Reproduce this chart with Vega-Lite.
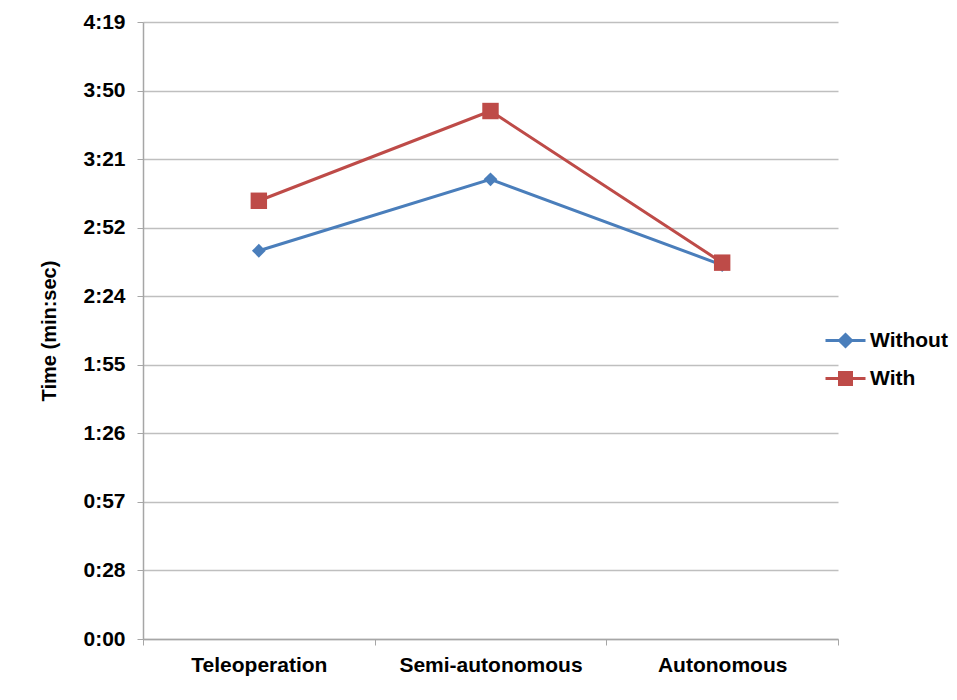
{
  "$schema": "https://vega.github.io/schema/vega-lite/v6.json",
  "autosize": {"type": "none"},
  "width": 695,
  "height": 617,
  "padding": {"left": 143, "top": 22, "right": 119, "bottom": 61},
  "background": "white",
  "config": {
    "view": {"stroke": null},
    "font": "Liberation Sans",
    "axis": {"labelFont": "Liberation Sans", "titleFont": "Liberation Sans"},
    "legend": {"labelFont": "Liberation Sans"}
  },
  "data": {
    "values": [
      {"mode": "Teleoperation", "series": "Without", "seconds": 163.1},
      {"mode": "Semi-autonomous", "series": "Without", "seconds": 193.1},
      {"mode": "Autonomous", "series": "Without", "seconds": 157.1},
      {"mode": "Teleoperation", "series": "With", "seconds": 184.1},
      {"mode": "Semi-autonomous", "series": "With", "seconds": 221.8},
      {"mode": "Autonomous", "series": "With", "seconds": 158.1}
    ]
  },
  "encoding": {
    "x": {
      "field": "mode",
      "type": "nominal",
      "sort": ["Teleoperation", "Semi-autonomous", "Autonomous"],
      "scale": {"type": "band", "paddingInner": 0, "paddingOuter": 0},
      "axis": {
        "title": null,
        "labelAngle": 0,
        "labelLimit": 0,
        "tickBand": "extent",
        "labelFontSize": 21,
        "labelFontWeight": "bold",
        "labelColor": "#000000",
        "labelPadding": 9,
        "tickSize": 6,
        "tickColor": "#a6a6a6",
        "domainColor": "#a6a6a6",
        "domainWidth": 1.5,
        "grid": false
      }
    },
    "y": {
      "field": "seconds",
      "type": "quantitative",
      "scale": {"domain": [0, 259.2], "nice": false, "zero": true},
      "axis": {
        "title": "Time (min:sec)",
        "titleFontSize": 20,
        "titleFontWeight": "bold",
        "titleColor": "#000000",
        "titlePadding": 23,
        "values": [0, 28.8, 57.6, 86.4, 115.2, 144, 172.8, 201.6, 230.4, 259.2],
        "labelExpr": "floor(datum.value/60) + ':' + (floor(datum.value%60) < 10 ? '0' : '') + floor(datum.value%60)",
        "labelFontSize": 21,
        "labelFontWeight": "bold",
        "labelColor": "#000000",
        "labelPadding": 12,
        "tickSize": 6,
        "tickColor": "#a6a6a6",
        "domainColor": "#a6a6a6",
        "domainWidth": 1.5,
        "grid": true,
        "gridColor": "#bfbfbf",
        "gridWidth": 1.5
      }
    },
    "color": {
      "field": "series",
      "type": "nominal",
      "sort": ["Without", "With"],
      "scale": {"domain": ["Without", "With"], "range": ["#4a7ebb", "#be4b48"]},
      "legend": {
        "title": null,
        "orient": "none",
        "legendX": 681,
        "legendY": 297,
        "labelFontSize": 21,
        "labelFontWeight": "bold",
        "labelColor": "#000000",
        "labelOffset": 3,
        "symbolSize": 1600,
        "symbolStrokeWidth": 3,
        "symbolType": "M-1,0H1M0,-0.3L0.3,0L0,0.3L-0.3,0Z",
        "rowPadding": 4,
        "encode": {
          "symbols": {
            "update": {
              "shape": {"signal": "datum.value == 'With' ? 'M-1,0H1M-0.3,-0.3H0.3V0.3H-0.3Z' : 'M-1,0H1M0,-0.3L0.3,0L0,0.3L-0.3,0Z'"},
              "fill": {"signal": "datum.value == 'With' ? '#be4b48' : '#4a7ebb'"},
              "stroke": {"signal": "datum.value == 'With' ? '#be4b48' : '#4a7ebb'"},
              "strokeWidth": {"value": 3},
              "opacity": {"value": 1}
            }
          }
        }
      }
    }
  },
  "layer": [
    {
      "mark": {"type": "line", "strokeWidth": 3}
    },
    {
      "transform": [{"filter": "datum.series == 'Without'"}],
      "mark": {"type": "point", "filled": true, "opacity": 1, "shape": "diamond", "size": 190}
    },
    {
      "transform": [{"filter": "datum.series == 'With'"}],
      "mark": {"type": "point", "filled": true, "opacity": 1, "shape": "square", "size": 270}
    }
  ]
}
